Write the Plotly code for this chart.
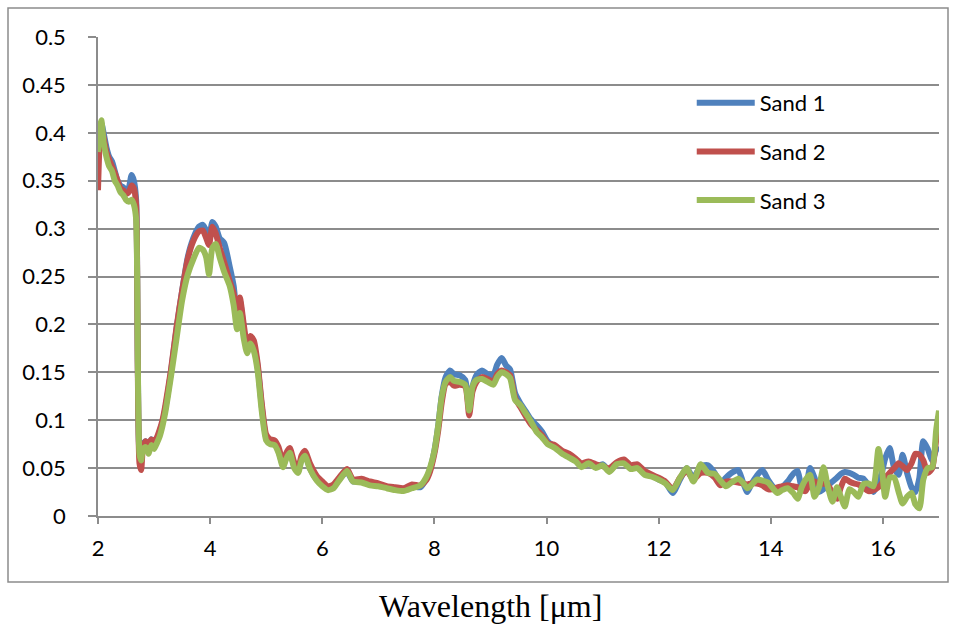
import plotly.graph_objects as go

# ---- data ----
wavelength = [
    2.00, 2.03, 2.06, 2.10, 2.15, 2.20, 2.25, 2.30, 2.35, 2.40,
    2.45, 2.50, 2.55, 2.60, 2.64, 2.68, 2.71, 2.74, 2.77, 2.80,
    2.85, 2.90, 2.95, 3.00, 3.05, 3.10, 3.15, 3.20, 3.30, 3.40,
    3.50, 3.60, 3.70, 3.80, 3.87, 3.93, 3.98, 4.04, 4.10, 4.17,
    4.25, 4.35, 4.42, 4.48, 4.53, 4.60, 4.66, 4.72, 4.78, 4.85,
    4.92, 5.00, 5.07, 5.15, 5.22, 5.30, 5.36, 5.42, 5.50, 5.57,
    5.63, 5.69, 5.78, 5.90, 6.00, 6.10, 6.20, 6.30, 6.44, 6.55,
    6.70, 6.85, 7.00, 7.15, 7.30, 7.45, 7.60, 7.75, 7.85, 7.92,
    8.00, 8.07, 8.13, 8.20, 8.28, 8.35, 8.45, 8.55, 8.62, 8.68,
    8.75, 8.85, 8.95, 9.05, 9.12, 9.20, 9.28, 9.35, 9.44, 9.53,
    9.62, 9.72, 9.82, 9.92, 10.02, 10.15, 10.28, 10.40, 10.52, 10.62,
    10.75, 10.88, 11.00, 11.12, 11.25, 11.38, 11.50, 11.62, 11.75, 11.88,
    12.00, 12.12, 12.25, 12.38, 12.50, 12.62, 12.75, 12.88, 13.00, 13.10,
    13.20, 13.30, 13.42, 13.50, 13.58, 13.65, 13.75, 13.85, 13.95, 14.05,
    14.12, 14.20, 14.30, 14.40, 14.48, 14.55, 14.62, 14.70, 14.78, 14.86,
    14.94, 15.02, 15.10, 15.18, 15.25, 15.32, 15.40, 15.48, 15.56, 15.65,
    15.74, 15.83, 15.92, 15.98, 16.04, 16.12, 16.20, 16.28, 16.35, 16.43,
    16.51, 16.58, 16.65, 16.72, 16.80, 16.88, 16.95, 17.00,
]

sand1 = [
    0.370, 0.400, 0.410, 0.400, 0.385, 0.375, 0.370, 0.360, 0.350, 0.345,
    0.343, 0.340, 0.343, 0.356, 0.350, 0.330, 0.160, 0.065, 0.060, 0.075,
    0.078, 0.072, 0.080, 0.075, 0.080, 0.088, 0.098, 0.112, 0.150, 0.195,
    0.235, 0.270, 0.290, 0.302, 0.304, 0.298, 0.290, 0.307, 0.302, 0.290,
    0.285, 0.260, 0.240, 0.210, 0.225, 0.195, 0.175, 0.185, 0.178, 0.155,
    0.115, 0.082, 0.077, 0.075, 0.068, 0.053, 0.062, 0.068, 0.052, 0.047,
    0.060, 0.064, 0.050, 0.038, 0.033, 0.028, 0.030, 0.038, 0.046, 0.036,
    0.037, 0.034, 0.032, 0.030, 0.028, 0.028, 0.031, 0.030, 0.038, 0.048,
    0.068, 0.095, 0.125, 0.145, 0.152, 0.148, 0.147, 0.142, 0.112, 0.135,
    0.147, 0.152, 0.148, 0.147, 0.158, 0.165, 0.157, 0.153, 0.128, 0.118,
    0.110, 0.101, 0.095, 0.088, 0.078, 0.072, 0.066, 0.063, 0.058, 0.052,
    0.055, 0.051, 0.054, 0.047, 0.055, 0.057, 0.050, 0.052, 0.045, 0.042,
    0.038, 0.035, 0.024, 0.038, 0.050, 0.040, 0.052, 0.053, 0.045, 0.034,
    0.040, 0.045, 0.048, 0.036, 0.025, 0.033, 0.042, 0.048, 0.038, 0.030,
    0.027, 0.030, 0.036, 0.044, 0.047, 0.030, 0.030, 0.050, 0.040, 0.025,
    0.028, 0.032, 0.036, 0.040, 0.044, 0.046, 0.045, 0.043, 0.040, 0.039,
    0.032, 0.025, 0.035, 0.045, 0.060, 0.071, 0.050, 0.043, 0.064, 0.045,
    0.030, 0.025, 0.040, 0.078, 0.070, 0.058, 0.069, 0.072,
]

sand2 = [
    0.340, 0.390, 0.405, 0.395, 0.380, 0.372, 0.365, 0.358, 0.350, 0.342,
    0.340, 0.336, 0.338, 0.345, 0.342, 0.325, 0.150, 0.055, 0.048, 0.070,
    0.078, 0.075, 0.080, 0.078, 0.082, 0.090, 0.100, 0.115, 0.152, 0.197,
    0.235, 0.268, 0.287, 0.297, 0.298, 0.290, 0.283, 0.302, 0.295, 0.280,
    0.265, 0.245, 0.232, 0.205, 0.228, 0.200, 0.178, 0.188, 0.183, 0.158,
    0.118, 0.085, 0.080, 0.079, 0.072, 0.056, 0.066, 0.071, 0.056, 0.050,
    0.063, 0.068, 0.055, 0.042, 0.036, 0.031, 0.033, 0.040, 0.049, 0.038,
    0.039, 0.036, 0.034, 0.031, 0.030, 0.029, 0.033, 0.032, 0.037, 0.046,
    0.065, 0.090, 0.118, 0.138, 0.140, 0.136, 0.137, 0.135, 0.105, 0.130,
    0.140, 0.145, 0.143, 0.140, 0.148, 0.152, 0.150, 0.147, 0.123, 0.114,
    0.105, 0.096, 0.090, 0.084, 0.076, 0.074, 0.068, 0.065, 0.060, 0.055,
    0.057, 0.054, 0.052, 0.050, 0.056, 0.059, 0.053, 0.054, 0.047, 0.043,
    0.040, 0.036, 0.028, 0.040, 0.047, 0.038, 0.045, 0.045, 0.040, 0.032,
    0.036, 0.036, 0.035, 0.034, 0.033, 0.034, 0.034, 0.032, 0.028, 0.028,
    0.030, 0.031, 0.032, 0.031, 0.030, 0.027, 0.026, 0.034, 0.036, 0.033,
    0.034, 0.032, 0.024, 0.018, 0.030, 0.039, 0.036, 0.034, 0.033, 0.030,
    0.026, 0.027, 0.030, 0.034, 0.040, 0.045, 0.050, 0.055, 0.052, 0.048,
    0.055, 0.065, 0.064, 0.058, 0.045, 0.050, 0.079, 0.090,
]

sand3 = [
    0.380, 0.405, 0.413, 0.390, 0.375, 0.365, 0.360, 0.350, 0.345, 0.338,
    0.335, 0.330, 0.328, 0.330, 0.325, 0.310, 0.160, 0.065, 0.058, 0.070,
    0.072, 0.065, 0.074, 0.070, 0.076, 0.083, 0.094, 0.108, 0.145, 0.185,
    0.225, 0.252, 0.268, 0.280, 0.278, 0.270, 0.252, 0.280, 0.284, 0.270,
    0.255, 0.240, 0.220, 0.195, 0.212, 0.185, 0.170, 0.180, 0.172, 0.150,
    0.110, 0.079, 0.075, 0.074, 0.066, 0.051, 0.060, 0.066, 0.050, 0.045,
    0.058, 0.063, 0.049, 0.037, 0.031, 0.027, 0.029, 0.037, 0.047, 0.036,
    0.035, 0.032, 0.031, 0.029, 0.027, 0.026, 0.029, 0.032, 0.040, 0.050,
    0.068, 0.095, 0.124, 0.140, 0.145, 0.141, 0.140, 0.137, 0.110, 0.135,
    0.142, 0.143, 0.140, 0.137, 0.145, 0.150, 0.148, 0.144, 0.121, 0.116,
    0.108, 0.099, 0.088, 0.082, 0.075, 0.071, 0.065, 0.061, 0.057, 0.051,
    0.055, 0.050, 0.053, 0.046, 0.054, 0.055, 0.049, 0.050, 0.043, 0.041,
    0.038, 0.034, 0.027, 0.040, 0.050, 0.036, 0.054, 0.045, 0.044, 0.037,
    0.031, 0.035, 0.039, 0.035, 0.029, 0.032, 0.038, 0.037, 0.035, 0.028,
    0.024, 0.027, 0.029, 0.024, 0.018, 0.030, 0.038, 0.043, 0.020, 0.030,
    0.051, 0.030, 0.015, 0.030, 0.020, 0.010, 0.028, 0.025, 0.020, 0.033,
    0.034, 0.031, 0.070, 0.050, 0.020, 0.040, 0.040, 0.025, 0.013, 0.020,
    0.024, 0.012, 0.008, 0.038, 0.050, 0.051, 0.090, 0.110,
]

series_names = ["Sand 1", "Sand 2", "Sand 3"]
series_colors = ["#4F81BD", "#C0504D", "#9BBB59"]
x_title = "Wavelength [μm]"

# ---- figure ----
fig = go.Figure()
for i, (name, ys, col) in enumerate(zip(series_names, [sand1, sand2, sand3], series_colors)):
    fig.add_trace(go.Scatter(
        x=wavelength, y=ys, name=name, mode="lines",
        line=dict(color=col, width=6, shape="spline", smoothing=0.6),
        legendgroup=f"g{i}",
    ))

grid_col = "#8C8C8C"
tick_font = dict(family="Lato", size=22, color="#000000")

fig.update_layout(
    width=957, height=624,
    margin=dict(l=98, r=18, t=37, b=108),
    paper_bgcolor="white", plot_bgcolor="white",
    showlegend=True,
    legend=dict(
        x=0.706, y=0.906, xanchor="left", yanchor="top",
        font=dict(family="Lato", size=22, color="#000000"),
        bgcolor="rgba(0,0,0,0)", itemwidth=58, tracegroupgap=17,
    ),
    xaxis=dict(
        range=[2, 17], tickvals=[2, 4, 6, 8, 10, 12, 14, 16],
        showgrid=False, zeroline=False,
        showline=True, linecolor=grid_col, linewidth=1.5,
        ticks="outside", ticklen=6, tickcolor=grid_col, tickwidth=1.5,
        tickfont=tick_font, ticklabelstandoff=6,
    ),
    yaxis=dict(
        range=[0, 0.5], tickvals=[0, 0.05, 0.1, 0.15, 0.2, 0.25, 0.3, 0.35, 0.4, 0.45, 0.5],
        ticktext=["0", "0.05", "0.1", "0.15", "0.2", "0.25", "0.3", "0.35", "0.4", "0.45", "0.5"],
        showgrid=True, gridcolor=grid_col, gridwidth=1.5, zeroline=False,
        showline=True, linecolor=grid_col, linewidth=1.5,
        ticks="outside", ticklen=8, tickcolor=grid_col, tickwidth=1.5,
        tickfont=tick_font, ticklabelstandoff=18,
    ),
)

# x-axis title, centred under the whole chart box (as in the reference)
fig.add_annotation(
    text=x_title, xref="paper", yref="paper",
    x=(490 - 98) / 841, y=(516 - 606) / 479, xanchor="center", yanchor="middle",
    showarrow=False, font=dict(family="Liberation Serif", size=32, color="#000000"),
)

# outer chart-area border
fig.add_shape(type="rect", xref="paper", yref="paper",
              x0=(8 - 98) / 841, x1=(948 - 98) / 841,
              y0=(516 - 582) / 479, y1=(516 - 8) / 479,
              line=dict(color=grid_col, width=1.5), fillcolor="rgba(0,0,0,0)", layer="below")

fig.write_html("out.html")
